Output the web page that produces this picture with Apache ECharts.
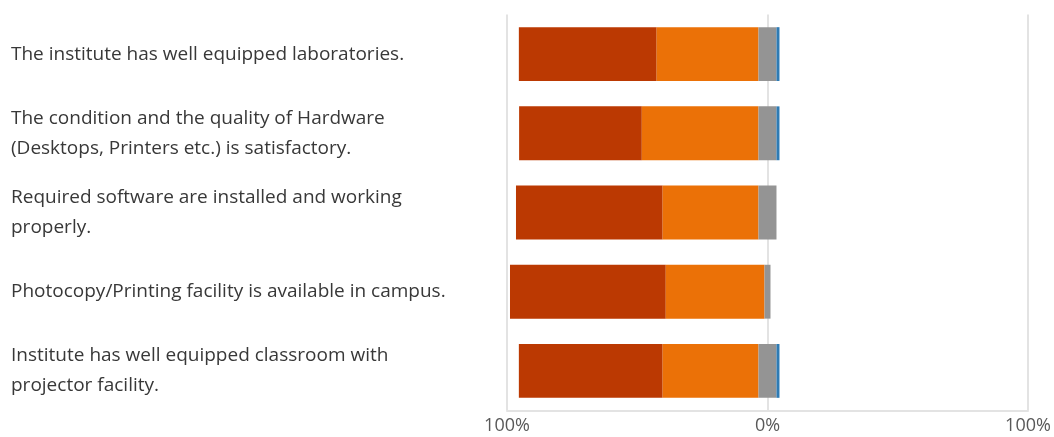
<!DOCTYPE html>
<html>
<head>
<meta charset="utf-8">
<script src="https://cdn.jsdelivr.net/npm/echarts@6/dist/echarts.min.js"></script>
<style>html,body{margin:0;padding:0;background:#fff}#c{width:1054px;height:437px}</style>
</head>
<body>
<div id="c"></div>
<script>
const categories = [
  "The institute has well equipped laboratories.",
  "The condition and the quality of Hardware\n(Desktops, Printers etc.) is satisfactory.",
  "Required software are installed and working\nproperly.",
  "Photocopy/Printing facility is available in campus.",
  "Institute has well equipped classroom with\nprojector facility."
];
// percentages
const darkRed = [52.9, 47.1, 56.3, 59.8, 55.2];
const orange  = [39.1, 44.8, 36.8, 37.9, 36.8];
const neutral = [6.9, 6.9, 6.9, 2.3, 6.9];
const blue    = [1.15, 1.15, 0, 0, 1.15];
const tickValues = [-100, 0, 100];

// axis runs 0..200 internally, 100 = the centre (0%); neutral is centred on it
const offset = darkRed.map((r, i) => 100 - r - orange[i] - neutral[i] / 2);

const chart = echarts.init(document.getElementById('c'));
const base = { type: 'bar', stack: 'all', barWidth: '68%', emphasis: { disabled: true } };
chart.setOption({
  animation: false,
  grid: { left: 507, right: 26, top: 14.5, bottom: 26.5, containLabel: false },
  xAxis: {
    type: 'value', min: 0, max: 200, interval: 100,
    axisLine: { show: true, lineStyle: { color: '#e3e3e3', width: 2 } },
    axisTick: { show: false },
    splitLine: { show: true, lineStyle: { color: '#e3e3e3', width: 2 } },
    axisLabel: {
      formatter: v => Math.abs(v - 100) + '%', color: '#595959',
      fontFamily: 'Open Sans', fontSize: 18, margin: 6
    }
  },
  yAxis: {
    type: 'category', data: categories, inverse: true,
    axisLine: { show: false }, axisTick: { show: false },
    axisLabel: {
      align: 'left', margin: 496, color: '#383838',
      fontFamily: 'Open Sans', fontSize: 19, lineHeight: 30,
      padding: [5, 0, 0, 0]
    }
  },
  series: [
    Object.assign({}, base, { name: 'offset', data: offset, itemStyle: { color: 'rgba(0,0,0,0)' }, silent: true }),
    Object.assign({}, base, { name: 'Red', data: darkRed, itemStyle: { color: '#bb3902' } }),
    Object.assign({}, base, { name: 'Orange', data: orange, itemStyle: { color: '#eb7107' } }),
    Object.assign({}, base, { name: 'Neutral', data: neutral, itemStyle: { color: '#949494' } }),
    Object.assign({}, base, { name: 'Blue', data: blue, itemStyle: { color: '#2e7bb4' } })
  ]
});
</script>
</body>
</html>
